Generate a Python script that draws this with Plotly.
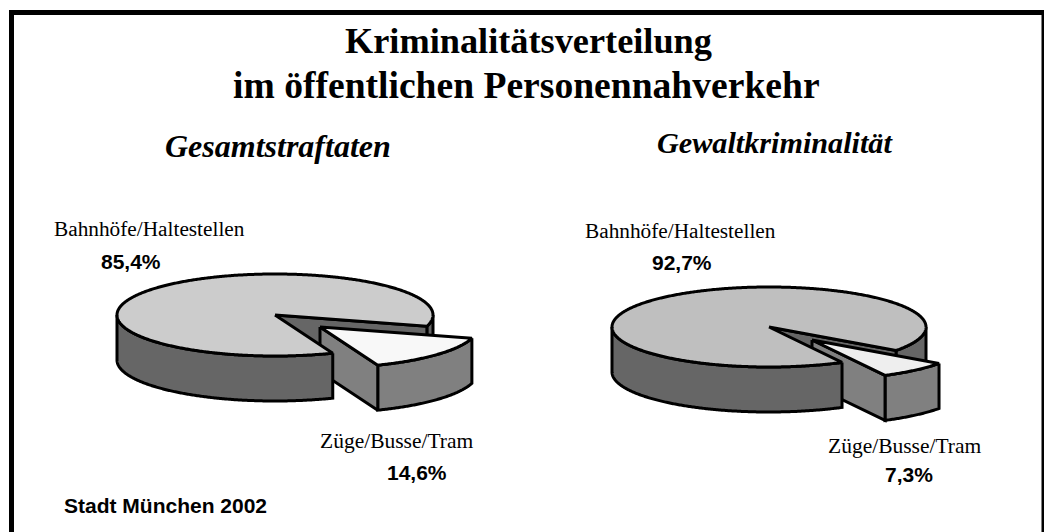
import numpy as np
import plotly.graph_objects as go

pie_names = ["Gesamtstraftaten", "Gewaltkriminalität"]
categories = ["Bahnhöfe/Haltestellen", "Züge/Busse/Tram"]
gesamt_values = [85.4, 14.6]
gewalt_values = [92.7, 7.3]
gesamt_labels = ["85,4%", "14,6%"]
gewalt_labels = ["92,7%", "7,3%"]

W, H = 1044, 532
SERIF = "Liberation Serif"
SANS = "Liberation Sans"
LW = 3


def arc(cx, cy, rx, ry, t0, t1, dy=0):
    t = np.radians(np.linspace(t0, t1, max(3, int(abs(t1 - t0) * 2))))
    return cx + rx * np.cos(t), cy + ry * np.sin(t) + dy


def poly(fig, x, y, color):
    fig.add_trace(go.Scatter(
        x=list(x) + [x[0]], y=list(y) + [y[0]], mode="lines", fill="toself",
        fillcolor=color, line=dict(color="black", width=LW, simplify=False),
        hoverinfo="skip", showlegend=False))


def wall(fig, cx, cy, rx, ry, d, t0, t1, color):
    x, y = arc(cx, cy, rx, ry, t0, t1)
    x2, y2 = arc(cx, cy, rx, ry, t1, t0, d)
    poly(fig, np.r_[x, x2], np.r_[y, y2], color)


def pie3d(fig, values, cx, cy, rx, ry, d, start, off, top, side, s_top, s_side):
    sweep = values[1] / sum(values) * 360
    t0, t1 = start, start + sweep
    wall(fig, cx, cy, rx, ry, d, 0, t0, side)
    ex, ey = arc(cx, cy, rx, ry, t0, t0 + 0.1)
    poly(fig, [cx, ex[0], ex[0], cx], [cy, ey[0], ey[0] + d, cy + d], side)
    sx, sy = cx + off[0], cy + off[1]
    wall(fig, sx, sy, rx, ry, d, t0, t1, s_side)
    bx, by = arc(sx, sy, rx, ry, t1, t1 + 0.1)
    poly(fig, [sx, bx[0], bx[0], sx], [sy, by[0], by[0] + d, sy + d], s_side)
    x, y = arc(sx, sy, rx, ry, t0, t1)
    poly(fig, np.r_[sx, x], np.r_[sy, y], s_top)
    wall(fig, cx, cy, rx, ry, d, t1, 180, side)
    x, y = arc(cx, cy, rx, ry, t1, t0 + 360)
    poly(fig, np.r_[cx, x], np.r_[cy, y], top)


fig = go.Figure()
pie3d(fig, gesamt_values, 275, 315, 158, 41, 45, 16, (45, 12),
      "#cccccc", "#666666", "#f8f8f8", "#808080")
pie3d(fig, gewalt_values, 769, 327, 157, 40, 45, 36, (43, 13),
      "#bfbfbf", "#666666", "#eeeeee", "#808080")


def text(x, y, s, size, font=SERIF, bold=False, italic=False, anchor="center"):
    fig.add_annotation(
        x=x, y=y, text=s, showarrow=False, xanchor=anchor, yanchor="middle",
        font=dict(family=font, size=size, color="black",
                  weight="bold" if bold else "normal",
                  style="italic" if italic else "normal"))


text(528.5, 41, "Kriminalitätsverteilung", 36.3, bold=True)
text(526, 85, "im öffentlichen Personennahverkehr", 37.6, bold=True)
text(277.5, 145.5, pie_names[0], 32, bold=True, italic=True)
text(774.5, 143, pie_names[1], 30.2, bold=True, italic=True)
text(149.5, 229, categories[0], 21.3)
text(680.5, 231, categories[0], 21.3)
text(130.5, 261, gesamt_labels[0], 21, SANS, True)
text(681.5, 262, gewalt_labels[0], 21, SANS, True)
text(397, 441, categories[1], 21.5)
text(904.5, 446, categories[1], 21.5)
text(417, 472, gesamt_labels[1], 21, SANS, True)
text(909, 474, gewalt_labels[1], 21, SANS, True)
text(165.5, 505, "Stadt München 2002", 21, SANS, True)

# Frame: left, top and right edges; the bottom edge lies outside the view.
fig.add_shape(type="rect", x0=11.5, y0=12.5, x1=1044, y1=545,
              line=dict(color="black", width=5), fillcolor="rgba(0,0,0,0)")

fig.update_layout(
    width=W, height=H, margin=dict(l=0, r=0, t=0, b=0),
    paper_bgcolor="white", plot_bgcolor="white", showlegend=False,
    xaxis=dict(range=[0, W], visible=False, fixedrange=True),
    yaxis=dict(range=[H, 0], visible=False, fixedrange=True),
)
fig.write_html("out.html", config={"displayModeBar": False},
               post_script="document.body.style.margin='0';document.documentElement.style.overflow='hidden';")
